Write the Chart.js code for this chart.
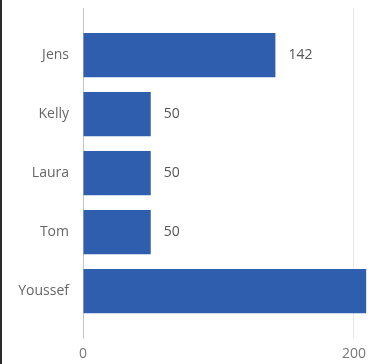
<!DOCTYPE html>
<html>
<head>
<meta charset="utf-8">
<script src="https://cdn.jsdelivr.net/npm/chart.js@4.4.0/dist/chart.umd.min.js"></script>
<style>
body{margin:0;background:#fff;}
#wrap{width:373px;height:364px;position:relative;box-shadow:inset 2px 0 0 #2a2a2a;}
</style>
</head>
<body>
<div id="wrap"><canvas id="barChart" width="373" height="364"></canvas></div>
<script>

// chart data
const names = ["Jens", "Kelly", "Laura", "Tom", "Youssef"];
const counts = [142, 50, 50, 50, 209];
const xTicks = [0, 200];

const barColor = "#2f5eae";

// draws the value next to the end of each bar
const valueLabels = {
    id: "valueLabels",
    afterDatasetsDraw(chart){
        let ctx = chart.ctx;
        let meta = chart.getDatasetMeta(0);
        ctx.save();
        ctx.font = "14px 'Open Sans'";
        ctx.fillStyle = "#555";
        ctx.textBaseline = "middle";
        ctx.textAlign = "left";
        meta.data.forEach((bar, i) => {
            ctx.fillText(String(counts[i]), bar.x + 13, bar.y);
        });
        ctx.restore();
    }
};

function fixTicks(scale){
    scale.ticks = xTicks.map(v => ({value: v}));
}

function gridColor(c){
    return c.tick && c.tick.value === 0 ? "#c4c4c4" : "#e6e6e6";
}

new Chart(
document.getElementById("barChart"),
{
    type: "bar",
    data: {
        labels: names,
        datasets: [{
            data: counts,
            backgroundColor: barColor,
            barPercentage: 0.75,
            categoryPercentage: 1
        }]
    },
    options: {
        responsive: false,
        animation: false,
        indexAxis: "y",
        layout: {
            padding: {top: 8, right: 0, bottom: 0, left: 0}
        },
        plugins: {
            legend: {display: false},
            tooltip: {enabled: false}
        },
        scales: {
            x: {
                position: "bottom",
                min: 0,
                max: 214,
                afterBuildTicks: fixTicks,
                afterFit(scale){
                    scale.height = 43.5;
                },
                border: {display: false},
                grid: {
                    color: gridColor,
                    tickLength: 18
                },
                ticks: {
                    color: "#777",
                    padding: 7,
                    font: {family: "Open Sans", size: 14}
                }
            },
            xTop: {
                axis: "x",
                position: "top",
                min: 0,
                max: 214,
                afterBuildTicks: fixTicks,
                border: {display: false},
                grid: {
                    color: gridColor,
                    drawOnChartArea: false,
                    tickLength: 17.5
                },
                ticks: {display: false}
            },
            y: {
                border: {display: false},
                grid: {display: false, drawTicks: false},
                afterFit(scale){
                    scale.width = 83;
                },
                ticks: {
                    color: "#666",
                    padding: 14,
                    font: {family: "Open Sans", size: 14}
                }
            }
        }
    },
    plugins: [valueLabels]
});

</script>
</body>
</html>
